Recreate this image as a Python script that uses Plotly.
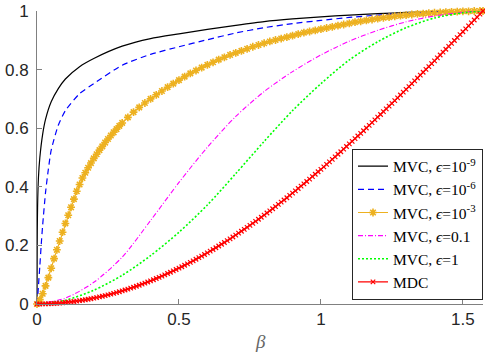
import plotly.graph_objects as go

# ---------------- data ----------------
BETA_MDC = [round(i * 0.01, 2) for i in range(157)] + [1.5708]
MDC = [0, 0.00005, 0.0002, 0.00045, 0.0008, 0.00125, 0.0018, 0.00245, 0.0032, 0.00405,
       0.0050, 0.00605, 0.0072, 0.00845, 0.0098, 0.01125, 0.0128, 0.01445, 0.0162, 0.0180,
       0.0199, 0.02195, 0.0241, 0.02635, 0.0287, 0.0311, 0.0336, 0.0362, 0.0389, 0.04175,
       0.0447, 0.0477, 0.0508, 0.05395, 0.0572, 0.0606, 0.0641, 0.06765, 0.0713, 0.07505,
       0.0789, 0.08285, 0.0869, 0.0910, 0.0952, 0.09955, 0.1040, 0.10845, 0.1130, 0.11765,
       0.1224, 0.12725, 0.1322, 0.1372, 0.1423, 0.14745, 0.1527, 0.15805, 0.1635, 0.16905,
       0.1747, 0.18035, 0.1861, 0.19195, 0.1979, 0.2039, 0.2100, 0.21615, 0.2224, 0.22875,
       0.2352, 0.24165, 0.2482, 0.2548, 0.2615, 0.2683, 0.2752, 0.2821, 0.2891, 0.29615,
       0.3033, 0.31045, 0.3177, 0.32505, 0.3325, 0.33995, 0.3475, 0.35505, 0.3627, 0.3705,
       0.3784, 0.38625, 0.3942, 0.4021, 0.4101, 0.4182, 0.4264, 0.4346, 0.4429, 0.45125,
       0.4597, 0.4681, 0.4766, 0.4851, 0.4937, 0.5023, 0.5110, 0.51975, 0.5286, 0.53745,
       0.5464, 0.5553, 0.5643, 0.57325, 0.5823, 0.5914, 0.6006, 0.60975, 0.6190, 0.62825,
       0.6376, 0.6469, 0.6563, 0.6657, 0.6752, 0.68465, 0.6942, 0.7037, 0.7133, 0.72285,
       0.7325, 0.74215, 0.7519, 0.76155, 0.7713, 0.78105, 0.7909, 0.8007, 0.8104, 0.82025,
       0.8300, 0.8398, 0.8497, 0.8596, 0.8696, 0.87945, 0.8894, 0.8993, 0.9093, 0.91925,
       0.9293, 0.93925, 0.9493, 0.95925, 0.9693, 0.9792, 0.9892, 1.0]

# eps = 1e-3 : finer sampling on the steep start (0 .. 0.30), then 0.02 steps
BETA_E3 = [0, 0.01, 0.02, 0.03, 0.04, 0.05, 0.06, 0.07, 0.08, 0.09, 0.10, 0.11, 0.12, 0.13,
           0.14, 0.15, 0.16, 0.17, 0.18, 0.19, 0.20, 0.21, 0.22, 0.23, 0.24, 0.25, 0.26, 0.27,
           0.28, 0.29] + [round(0.30 + i * 0.02, 2) for i in range(64)] + [1.5708]
MVC_1E3 = [0, 0.015, 0.035, 0.062, 0.09, 0.122, 0.155, 0.185, 0.215, 0.245, 0.275, 0.303,
           0.33, 0.358, 0.385, 0.408, 0.43, 0.448, 0.465, 0.481, 0.497, 0.511, 0.525, 0.538,
           0.551, 0.563, 0.575, 0.586, 0.597, 0.608,
           0.618, 0.637, 0.655, 0.671, 0.686,
           0.700, 0.714, 0.727, 0.740, 0.752, 0.764, 0.776, 0.787, 0.797, 0.807,
           0.816, 0.825, 0.834, 0.842, 0.850, 0.857, 0.864, 0.871, 0.878, 0.884,
           0.890, 0.896, 0.901, 0.906, 0.911, 0.916, 0.921, 0.926, 0.930, 0.934,
           0.938, 0.942, 0.946, 0.950, 0.954, 0.958, 0.962, 0.965, 0.968, 0.971,
           0.974, 0.977, 0.979, 0.982, 0.984, 0.986, 0.988, 0.990, 0.991, 0.993,
           0.994, 0.995, 0.996, 0.997, 0.998, 0.999, 0.999, 1.0, 1.0, 1.0]

BETA_E9 = [0, 0.0005, 0.001, 0.002, 0.005, 0.01, 0.02, 0.03, 0.05, 0.075, 0.1, 0.15, 0.2,
           0.3, 0.4, 0.5, 0.6, 0.7, 0.8, 0.9, 1.0, 1.1, 1.2, 1.3, 1.4, 1.5, 1.5708]
MVC_1E9 = [0, 0.15, 0.25, 0.33, 0.43, 0.50, 0.58, 0.63, 0.69, 0.735, 0.768, 0.81, 0.838,
           0.880, 0.906, 0.922, 0.937, 0.951, 0.964, 0.973, 0.980, 0.986, 0.991, 0.995,
           0.998, 0.9995, 1.0]

BETA_E6 = [0, 0.0025, 0.005, 0.01, 0.015, 0.02, 0.03, 0.04, 0.05, 0.075, 0.1, 0.15, 0.2,
           0.3, 0.4, 0.5, 0.6, 0.7, 0.8, 0.9, 1.0, 1.1, 1.2, 1.3, 1.4, 1.5, 1.5708]
MVC_1E6 = [0, 0.025, 0.06, 0.13, 0.205, 0.27, 0.38, 0.46, 0.525, 0.61, 0.66, 0.718, 0.752,
           0.815, 0.852, 0.878, 0.902, 0.925, 0.943, 0.957, 0.968, 0.978, 0.986, 0.992,
           0.997, 0.999, 1.0]

BETA_COARSE = [0, 0.1, 0.2, 0.3, 0.4, 0.5, 0.6, 0.7, 0.8, 0.9, 1.0, 1.1, 1.2, 1.3, 1.4, 1.5, 1.5708]
MVC_01 = [0, 0.02, 0.074, 0.16, 0.285, 0.415, 0.535, 0.64, 0.725, 0.793, 0.85, 0.897, 0.934,
          0.963, 0.983, 0.996, 1.0]
MVC_1 = [0, 0.013, 0.047, 0.098, 0.165, 0.245, 0.338, 0.445, 0.555, 0.66, 0.752, 0.833, 0.895,
         0.943, 0.976, 0.994, 1.0]

X_TICKS = [0, 0.5, 1, 1.5]
X_TICK_TEXT = ["0", "0.5", "1", "1.5"]
Y_TICKS = [0, 0.2, 0.4, 0.6, 0.8, 1]
Y_TICK_TEXT = ["0", "0.2", "0.4", "0.6", "0.8", "1"]

EPS = "<i>ϵ</i>"

# ---------------- figure ----------------
fig = go.Figure()

fig.add_trace(go.Scatter(x=BETA_E9, y=MVC_1E9, mode="lines", name=f"MVC, {EPS}=10<sup>-9</sup>",
                         line=dict(color="black", width=1.2, shape="spline", smoothing=0.6),
                         cliponaxis=False))
fig.add_trace(go.Scatter(x=BETA_E6, y=MVC_1E6, mode="lines", name=f"MVC, {EPS}=10<sup>-6</sup>",
                         line=dict(color="#0000ff", width=1.2, dash="6px,4px", shape="spline", smoothing=0.6),
                         cliponaxis=False))
fig.add_trace(go.Scatter(x=BETA_E3, y=MVC_1E3, mode="lines+markers", name=f"MVC, {EPS}=10<sup>-3</sup>",
                         line=dict(color="#EDB120", width=1.2),
                         marker=dict(symbol="asterisk-open", size=6.5, color="#EDB120",
                                     line=dict(color="#EDB120", width=1.6)),
                         cliponaxis=False))
fig.add_trace(go.Scatter(x=BETA_COARSE, y=MVC_01, mode="lines", name=f"MVC, {EPS}=0.1",
                         line=dict(color="#ff00ff", width=1.1, dash="5px,2px,1px,2px", shape="spline", smoothing=0.8),
                         cliponaxis=False))
fig.add_trace(go.Scatter(x=BETA_COARSE, y=MVC_1, mode="lines", name=f"MVC, {EPS}=1",
                         line=dict(color="#00ff00", width=1.6, dash="2px,2px", shape="spline", smoothing=0.8),
                         cliponaxis=False))
fig.add_trace(go.Scatter(x=BETA_MDC, y=MDC, mode="lines+markers", name="MDC",
                         line=dict(color="#ff0000", width=1.2),
                         marker=dict(symbol="x-thin-open", size=4.5, color="#ff0000",
                                     line=dict(color="#ff0000", width=1.2)),
                         cliponaxis=False))

axis_common = dict(showgrid=False, zeroline=False, showline=True, linecolor="#808080", linewidth=1,
                   ticks="inside", ticklen=5, tickcolor="#808080", tickwidth=1,
                   ticklabeloverflow="allow",
                   tickfont=dict(family="Liberation Sans, Arial, sans-serif", size=17, color="#262626"))

fig.update_xaxes(range=[0, 1.5708], tickvals=X_TICKS, ticktext=X_TICK_TEXT, **axis_common)
fig.update_yaxes(range=[0, 1], tickvals=Y_TICKS, ticktext=Y_TICK_TEXT, ticklabelstandoff=4, **axis_common)

fig.add_annotation(text="<i>β</i>", xref="paper", yref="paper", x=0.5, y=-0.128,
                   xanchor="center", yanchor="middle", showarrow=False,
                   font=dict(family="Liberation Serif, Times New Roman, serif", size=19, color="#666666"))

fig.update_layout(
    width=485, height=361,
    margin=dict(l=37, r=2, t=7, b=57),
    plot_bgcolor="white", paper_bgcolor="white",
    showlegend=True,
    legend=dict(x=1, xanchor="right", y=0.015, yanchor="bottom",
                bgcolor="white", bordercolor="#262626", borderwidth=1,
                font=dict(family="Liberation Serif, Times New Roman, serif", size=15.5, color="black"),
                itemwidth=30, tracegroupgap=0),
)

fig.write_html("out.html", config={"displayModeBar": False},
               post_script="document.body.style.margin='0';")
